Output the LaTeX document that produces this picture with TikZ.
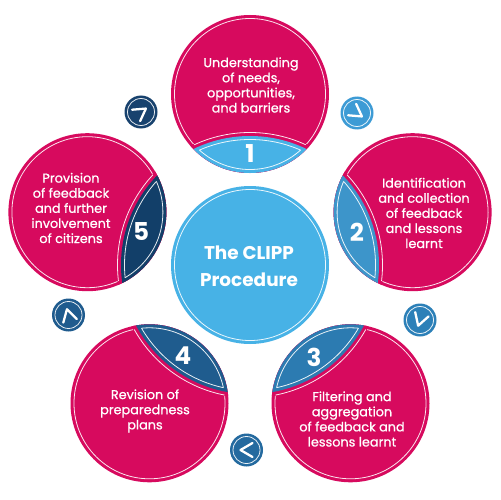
\documentclass[tikz,border=0pt]{standalone}
\usepackage{fontspec}
\setmainfont{Poppins}
\newfontfamily\txtfont[FakeBold=0.8]{Poppins}
\definecolor{pinkc}{RGB}{215,10,94}
\definecolor{centc}{RGB}{71,178,230}
\definecolor{sega}{RGB}{71,178,230}
\definecolor{segb}{RGB}{61,149,202}
\definecolor{segc}{RGB}{44,123,177}
\definecolor{segd}{RGB}{31,92,142}
\definecolor{sege}{RGB}{18,63,105}
\definecolor{sma}{RGB}{24,66,110}
\definecolor{smb}{RGB}{61,155,213}
\definecolor{smc}{RGB}{44,128,184}
\definecolor{smd}{RGB}{36,106,159}
\definecolor{sme}{RGB}{31,91,142}
\begin{document}
\begin{tikzpicture}[x=0.02cm,y=-0.02cm,
  wl/.style={draw=white, line width=0.45pt, opacity=0.9},
  chev/.style={draw=white, line width=1.3pt, line cap=round, line join=round},
  txt/.style={align=center, text=white, inner sep=0pt, font=\txtfont\fontsize{7.3}{8.6}\selectfont},
  numtxt/.style={text=white, inner sep=0pt, font=\bfseries\fontsize{14}{16}\selectfont},
  titletxt/.style={align=center, text=white, inner sep=0pt, font=\bfseries\fontsize{10.5}{15.5}\selectfont}]
\useasboundingbox (0,0) rectangle (500,500);
\fill[white] (0,0) rectangle (500,500);
\coordinate (O) at (250,265);
\coordinate (c1) at (250,94);
\coordinate (c2) at (412.6,212.2);
\coordinate (c3) at (350.5,403.3);
\coordinate (c4) at (149.5,403.3);
\coordinate (c5) at (87.4,212.2);
% central circle
\fill[centc] (O) circle (79);
\draw[wl] (O) circle (75.5);
\node[titletxt] (title) at (249,266) {The CLIPP\\Procedure};
% main circles
\foreach \n/\col in {1/sega,2/segb,3/segc,4/segd,5/sege}{
  \fill[pinkc] (c\n) circle (79);
  \draw[wl] (c\n) circle (75.5);
  \begin{scope}
    \clip (c\n) circle (79);
    \fill[pinkc] (O) circle (133.5);
    \fill[\col] (O) circle (129);
    \begin{scope}
      \clip (c\n) circle (75.5);
      \draw[wl] (O) circle (132.5);
      \draw[wl] (O) circle (125.5);
    \end{scope}
    \begin{scope}
      \clip (O) circle (125.5);
      \draw[wl] (c\n) circle (75.5);
    \end{scope}
  \end{scope}
}
% numbers
\node[numtxt] (n1) at (250,154) {1};
\node[numtxt] (n2) at (357,232) {2};
\node[numtxt] (n3) at (314,357) {3};
\node[numtxt] (n4) at (183,356) {4};
\node[numtxt] (n5) at (141,232) {5};
% texts
\node[txt] (t1) at (251,85) {Understanding\\of needs,\\opportunities,\\and barriers};
\node[txt] (t2) at (424,213) {Identification\\and collection\\of feedback\\and lessons\\learnt};
\node[txt] (t3) at (352,419) {Filtering and\\aggregation\\of feedback and\\lessons learnt};
\node[txt] (t4) at (145,411) {Revision of\\preparedness\\plans};
\node[txt] (t5) at (71,208) {Provision\\of feedback\\and further\\involvement\\of citizens};
% small arrow circles
\coordinate (s1) at (141,112);
\coordinate (s2) at (357,113);
\coordinate (s3) at (420,320);
\coordinate (s4) at (246.5,450);
\coordinate (s5) at (68.5,315);
\foreach \s/\col/\d in {s1/sma/35, s2/smb/-35, s3/smc/-108, s4/smd/180, s5/sme/105}{
  \fill[\col] (\s) circle (16.5);
  \draw[wl] (\s) circle (13.5);
  \begin{scope}[shift={(\s)}, rotate=\d]
    \draw[chev] (-6,7) -- (6,0) -- (-6,-7);
  \end{scope}
}
\end{tikzpicture}
\end{document}
